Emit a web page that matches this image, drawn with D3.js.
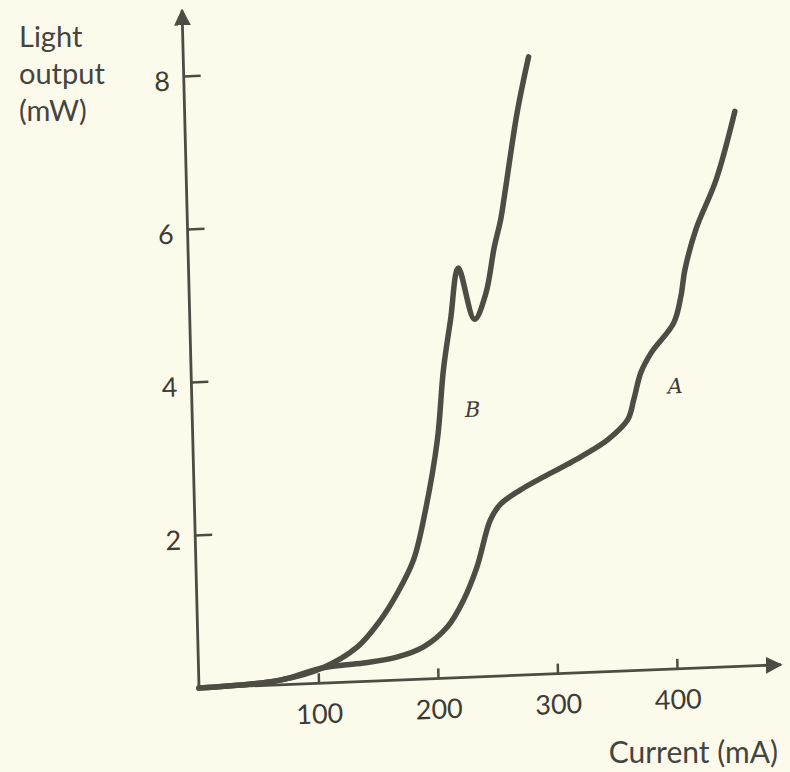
<!DOCTYPE html>
<html>
<head>
<meta charset="utf-8">
<script src="https://cdn.jsdelivr.net/npm/d3@7"></script>
<style>
  body { margin: 0; background: #fcfaeb; }
  svg { display: block; }
</style>
</head>
<body>
<svg width="790" height="772"></svg>
<script>
// curve B (sharp kink near 220 mA) and curve A, current in mA, light in mW
const currentB = [0, 68, 104, 133, 153, 168, 182, 193, 204.5, 211, 218, 225.5, 238, 248, 256, 262, 266, 278, 288.7];
const lightB   = [0, 0.06, 0.2, 0.45, 0.79, 1.14, 1.56, 2.2, 3.12, 4.03, 4.68, 5.35, 4.67, 5.0, 5.6, 5.96, 6.3, 7.35, 8.07];

const currentA = [0, 68, 104, 138, 166, 188.6, 209, 223, 235, 247, 255.7, 273, 324, 347, 364, 369.5, 376, 385, 404.5, 411, 415, 425, 443, 460];
const lightA   = [0, 0.06, 0.2, 0.24, 0.3, 0.42, 0.67, 1.01, 1.44, 2.04, 2.24, 2.42, 2.82, 3.03, 3.28, 3.54, 3.89, 4.14, 4.52, 4.86, 5.21, 5.73, 6.37, 7.25];

const xTicks = [100, 200, 300, 400];
const yTicks = [2, 4, 6, 8];

const ink = '#4c4c43';
const svg = d3.select('svg');

const x = d3.scaleLinear().domain([0, 400]).range([0, 478]);
const y = d3.scaleLinear().domain([0, 8]).range([0, -612]);

// the scanned page is slightly skewed, so the plot group is too
const g = svg.append('g')
  .attr('transform', 'matrix(1,-0.040,0.025,1,199,688)');

// arrow heads
const defs = svg.append('defs');
defs.append('marker')
  .attr('id', 'arrow')
  .attr('viewBox', '0 0 10 10')
  .attr('refX', 9).attr('refY', 5)
  .attr('markerWidth', 6).attr('markerHeight', 6)
  .attr('orient', 'auto')
  .append('path')
    .attr('d', 'M0,0L10,5L0,10z')
    .attr('fill', ink);

// y axis, ticks pointing inward
const yAxis = g.append('g')
  .call(d3.axisLeft(y).tickValues(yTicks).tickSizeInner(-17).tickSizeOuter(0).tickPadding(14));
yAxis.select('.domain').remove();
yAxis.selectAll('.tick line').attr('stroke', ink).attr('stroke-width', 2.5);
yAxis.selectAll('.tick text')
  .attr('fill', '#3c3c36')
  .attr('dy', '0.5em')
  .style('font-family', 'Lato, sans-serif')
  .style('font-size', '27px');

// x axis
const xAxis = g.append('g')
  .call(d3.axisBottom(x).tickValues(xTicks).tickSizeInner(-10).tickSizeOuter(0).tickPadding(21));
xAxis.select('.domain').remove();
xAxis.selectAll('.tick line').attr('stroke', ink).attr('stroke-width', 2.5);
xAxis.selectAll('.tick text')
  .attr('fill', '#3c3c36')
  .style('font-family', 'Lato, sans-serif')
  .style('font-size', '27px');

// axis lines with arrows
g.append('line')
  .attr('x1', 0).attr('y1', 0)
  .attr('x2', 0).attr('y2', y(8.86))
  .attr('stroke', ink).attr('stroke-width', 2.8)
  .attr('marker-end', 'url(#arrow)');
g.append('line')
  .attr('x1', 0).attr('y1', 0)
  .attr('x2', x(487)).attr('y2', 0)
  .attr('stroke', ink).attr('stroke-width', 2.8)
  .attr('marker-end', 'url(#arrow)');

// curves
const line = d3.line()
  .x(d => x(d[0]))
  .y(d => y(d[1]))
  .curve(d3.curveCatmullRom.alpha(0.5));

const seriesA = d3.zip(currentA, lightA);
const seriesB = d3.zip(currentB, lightB);

g.selectAll('.curve')
  .data([seriesA, seriesB])
  .enter().append('path')
    .attr('class', 'curve')
    .attr('d', line)
    .attr('fill', 'none')
    .attr('stroke', '#4d4d44')
    .attr('stroke-width', 5.5)
    .attr('stroke-linejoin', 'round')
    .attr('stroke-linecap', 'round');

// curve labels
g.append('text')
  .attr('x', x(228)).attr('y', y(3.4))
  .attr('fill', '#3c3c36')
  .style('font-family', '"DejaVu Serif", serif')
  .style('font-style', 'italic')
  .style('font-size', '21px')
  .text('B');
g.append('text')
  .attr('x', x(398)).attr('y', y(3.6))
  .attr('fill', '#3c3c36')
  .style('font-family', '"DejaVu Serif", serif')
  .style('font-style', 'italic')
  .style('font-size', '21px')
  .text('A');

// axis titles
const yTitle = svg.append('text')
  .attr('fill', '#45453f')
  .style('font-family', 'Lato, sans-serif')
  .style('font-size', '29px');
['Light', 'output', '(mW)'].forEach((t, i) => {
  yTitle.append('tspan').attr('x', 19).attr('y', 47 + i * 37).text(t);
});

svg.append('text')
  .attr('x', 778).attr('y', 763)
  .attr('text-anchor', 'end')
  .attr('fill', '#45453f')
  .style('font-family', 'Lato, sans-serif')
  .style('font-size', '30px')
  .text('Current (mA)');
</script>
</body>
</html>
